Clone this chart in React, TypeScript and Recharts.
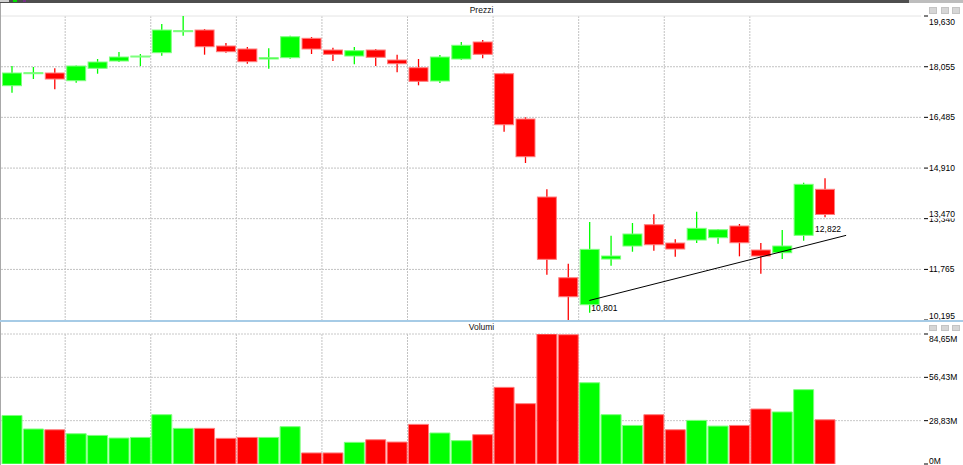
import React from "react";
import {
  ComposedChart,
  BarChart,
  Bar,
  XAxis,
  YAxis,
  CartesianGrid,
  ReferenceLine,
  ReferenceDot,
  Cell,
} from "recharts";

// ---- data (prices in euro, volumes in millions) ----
const opens = [17.467, 17.85, 17.861, 17.622, 18.007, 18.233, 18.357, 18.491, 19.143, 19.195, 18.699, 18.606, 18.295, 18.336, 18.938, 18.575, 18.388, 18.575, 18.264, 18.025, 17.612, 18.295, 18.823, 17.839, 16.433, 14.012, 11.507, 10.669, 12.087, 12.491, 13.152, 12.584, 12.677, 12.749, 13.112, 12.367, 12.283, 12.823, 14.251];
const closes = [17.861, 17.87, 17.674, 18.078, 18.202, 18.357, 18.388, 19.195, 19.174, 18.677, 18.522, 18.212, 18.336, 18.987, 18.606, 18.441, 18.553, 18.348, 18.149, 17.603, 18.357, 18.721, 18.441, 16.256, 15.263, 12.078, 10.917, 12.388, 12.181, 12.864, 12.531, 12.398, 13.04, 12.997, 12.593, 12.181, 12.491, 14.406, 13.47];
const highs = [18.078, 18.047, 18.007, 18.09, 18.295, 18.513, 18.45, 19.382, 19.63, 19.226, 18.792, 18.668, 18.627, 19.019, 18.978, 18.646, 18.668, 18.606, 18.429, 18.295, 18.419, 18.823, 18.885, 17.87, 16.486, 14.251, 11.942, 13.236, 12.811, 13.205, 13.475, 12.699, 13.556, 13.019, 13.174, 12.584, 12.988, 14.456, 14.592];
const lows = [17.249, 17.674, 17.355, 17.56, 17.839, 18.202, 18.078, 18.398, 19.019, 18.429, 18.491, 18.149, 17.994, 18.305, 18.451, 18.233, 18.131, 18.078, 17.882, 17.479, 17.55, 18.264, 18.317, 16.039, 15.067, 11.6, 10.195, 10.421, 11.88, 12.314, 12.345, 12.159, 12.584, 12.562, 12.171, 11.631, 12.087, 12.655, 13.382];
const volumes = [31.6, 22.8, 22.3, 19.7, 18.6, 16.9, 17.3, 32.1, 23.2, 23.2, 16.7, 17.3, 17.3, 24.3, 7.2, 7.2, 14.1, 15.8, 14.3, 25.8, 20.2, 15.2, 19.1, 49.9, 39.3, 84.6, 84.2, 52.9, 32.1, 25.1, 32.1, 22.3, 28.4, 24.7, 25.1, 35.8, 33.9, 48.4, 28.8];

const SLOT_COUNT = 43;
const priceTicks = [10.195, 11.765, 13.34, 14.91, 16.485, 18.055, 19.63];
const priceGridLines = [11.765, 13.34, 14.91, 16.485, 18.055];
const lastPrice = 13.47;
const trendStart = { slot: 27, value: 10.801 };
const trendEnd = { slot: 39, value: 12.822 };
const volTicks = [0, 28.22, 56.43, 84.65];
const volTickLabels = ["0M", "28,83M", "56,43M", "84,65M"];
const gridSlots = [3, 7, 11, 15, 19, 23, 27, 31, 35];

const data = Array.from({ length: SLOT_COUNT }, (_, i) =>
  i < opens.length
    ? {
        slot: i,
        open: opens[i],
        high: highs[i],
        low: lows[i],
        close: closes[i],
        range: [lows[i], highs[i]],
        vol: volumes[i],
        up: closes[i] >= opens[i],
      }
    : { slot: i, range: null, vol: null, up: true }
);

const GREEN = "#00ff00";
const RED = "#ff0000";
const GREEN_EDGE = "#7dff7d";
const RED_EDGE = "#ff7d7d";
const FONT = "'Liberation Sans', Arial, sans-serif";
const fmtPrice = (v: number) => v.toFixed(3).replace(".", ",");

// vertical grid at slot boundaries, derived from the plot offset the library computes
const slotBoundaryGrid = ({ offset }: any) =>
  gridSlots.map((k) => offset.left + (offset.width * k) / SLOT_COUNT);

const Candle = (props: any) => {
  const { x, y, width, height, payload } = props;
  if (!payload || payload.high == null) return null;
  const top = Math.min(y, y + height);
  const h = Math.abs(height);
  const { open, close, high, low } = payload;
  const span = high - low;
  const px = (v: number) => (span > 0 ? top + ((high - v) / span) * h : top);
  const up = close >= open;
  const color = up ? GREEN : RED;
  const edge = up ? GREEN_EDGE : RED_EDGE;
  const bodyTop = px(Math.max(open, close));
  const bodyBot = px(Math.min(open, close));
  const bh = Math.max(bodyBot - bodyTop, 1);
  const cx = x + width / 2;
  return (
    <g>
      <line x1={cx} x2={cx} y1={top} y2={top + h} stroke={color} strokeWidth={1.3} />
      <rect x={x + 0.5} y={bodyTop} width={width - 1} height={bh} fill={color} stroke={edge} strokeWidth={1} />
    </g>
  );
};

const PriceTick = (props: any) => {
  const { x, y, payload } = props;
  const v = payload.value;
  if (v === lastPrice) {
    return (
      <g>
        <rect x={x + 7} y={y - 5} width={34} height={9} fill="#ffffff" />
        <text x={x + 8} y={y} dy="0.35em" fontSize={8.5} fontFamily={FONT} fill="#000">
          {fmtPrice(v)}
        </text>
      </g>
    );
  }
  let dy = 0;
  if (v === priceTicks[priceTicks.length - 1]) dy = 6;
  if (v === priceTicks[0]) dy = -4;
  return (
    <g>
      <line x1={x + 3} x2={x + 7} y1={y} y2={y} stroke="#000" strokeWidth={1} />
      <text x={x + 8} y={y + dy} dy="0.35em" fontSize={8.5} fontFamily={FONT} fill="#000">
        {fmtPrice(v)}
      </text>
    </g>
  );
};

const VolTick = (props: any) => {
  const { x, y, payload } = props;
  const idx = volTicks.indexOf(payload.value);
  let dy = 0;
  if (idx === volTicks.length - 1) dy = 5;
  if (idx === 0) dy = -3;
  return (
    <g>
      <line x1={x + 3} x2={x + 7} y1={y} y2={y} stroke="#000" strokeWidth={1} />
      <text x={x + 8} y={y + dy} dy="0.35em" fontSize={8.5} fontFamily={FONT} fill="#000">
        {volTickLabels[idx]}
      </text>
    </g>
  );
};

const TrendLabel = (text: string, dx: number, dy: number, anchor: string) => (p: any) => {
  const vb = p.viewBox || {};
  return (
    <text x={vb.x + dx} y={vb.y + dy} textAnchor={anchor} fontSize={8.5} fontFamily={FONT} fill="#000">
      {text}
    </text>
  );
};

const WinButtons = ({ top, h }: { top: number; h: number }) => (
  <>
    {[929, 941, 952].map((l) => (
      <div
        key={l}
        style={{
          position: "absolute",
          left: l,
          top,
          width: 8,
          height: h,
          background: "#d6d6d6",
          border: "1px solid #c4c4c4",
          boxSizing: "border-box",
        }}
      />
    ))}
  </>
);

export default function App() {
  return (
    <div
      style={{
        position: "absolute",
        left: 0,
        top: 0,
        width: 963,
        height: 465,
        background: "#fff",
        overflow: "hidden",
        fontFamily: FONT,
      }}
    >
      <div style={{ position: "absolute", left: 0, top: 0 }}>
        <ComposedChart width={963} height={321} data={data} margin={{ top: 16, right: 0, bottom: 1, left: 1 }}>
          <XAxis dataKey="slot" type="category" hide />
          <YAxis
            orientation="right"
            width={42}
            domain={[priceTicks[0], priceTicks[priceTicks.length - 1]]}
            ticks={[...priceTicks, lastPrice].sort((a, b) => a - b)}
            interval={0}
            allowDataOverflow
            axisLine={false}
            tickLine={false}
            tickSize={0}
            tickMargin={0}
            tick={<PriceTick />}
          />
          <CartesianGrid
            horizontal={false}
            verticalCoordinatesGenerator={slotBoundaryGrid}
            stroke="#c2c2c2"
            strokeDasharray="2 1"
          />
          <CartesianGrid vertical={false} horizontalValues={priceGridLines} stroke="#c2c2c2" strokeDasharray="2 1" />
          <CartesianGrid vertical={false} horizontalValues={[priceTicks[priceTicks.length - 1]]} stroke="#e4e4e4" />
          <Bar dataKey="range" barSize={20} isAnimationActive={false} shape={(p: any) => <Candle {...p} />} />
          <ReferenceLine
            segment={[
              { x: trendStart.slot, y: trendStart.value },
              { x: trendEnd.slot, y: trendEnd.value },
            ]}
            stroke="#000"
            strokeWidth={1}
          />
          <ReferenceDot
            x={trendStart.slot}
            y={trendStart.value}
            r={0.01}
            fill="none"
            stroke="none"
            label={TrendLabel(fmtPrice(trendStart.value), 2, 11, "start")}
          />
          <ReferenceDot
            x={trendEnd.slot}
            y={trendEnd.value}
            r={0.01}
            fill="none"
            stroke="none"
            label={TrendLabel(fmtPrice(trendEnd.value), -5, -3, "end")}
          />
        </ComposedChart>
      </div>

      <div style={{ position: "absolute", left: 0, top: 321 }}>
        <BarChart width={963} height={144} data={data} margin={{ top: 13, right: 0, bottom: 1, left: 1 }}>
          <XAxis dataKey="slot" type="category" hide />
          <YAxis
            orientation="right"
            width={42}
            domain={[0, volTicks[volTicks.length - 1]]}
            ticks={volTicks}
            interval={0}
            allowDataOverflow
            axisLine={false}
            tickLine={false}
            tickSize={0}
            tickMargin={0}
            tick={<VolTick />}
          />
          <CartesianGrid
            horizontal={false}
            verticalCoordinatesGenerator={slotBoundaryGrid}
            stroke="#c2c2c2"
            strokeDasharray="2 1"
          />
          <CartesianGrid vertical={false} horizontalValues={volTicks.slice(1)} stroke="#c8c8c8" strokeDasharray="2 1" />
          <Bar dataKey="vol" barSize={20} isAnimationActive={false}>
            {data.map((d, i) => (
              <Cell key={i} fill={d.up ? GREEN : RED} stroke={d.up ? GREEN_EDGE : RED_EDGE} strokeWidth={1} />
            ))}
          </Bar>
        </BarChart>
      </div>

      {/* frame decorations */}
      <div style={{ position: "absolute", left: 0, top: 0, width: 963, height: 3, background: "#4e4e4e" }} />
      <div style={{ position: "absolute", left: 909, top: 0, width: 54, height: 3, background: "#bdbdbd" }} />
      <div style={{ position: "absolute", left: 0, top: 0, width: 9, height: 2, background: "#d0d0d0" }} />
      <div style={{ position: "absolute", left: 13, top: 0, width: 4, height: 2, background: "#00e000" }} />
      <div style={{ position: "absolute", left: 23, top: 0, width: 3, height: 2, background: "#7a2a8a" }} />
      <div style={{ position: "absolute", left: 0, top: 3, width: 1, height: 462, background: "#a8a8a8" }} />
      <div
        style={{
          position: "absolute",
          left: 0,
          top: 4,
          width: 963,
          height: 12,
          lineHeight: "12px",
          textAlign: "center",
          fontSize: 8.5,
          color: "#111",
        }}
      >
        Prezzi
      </div>
      <WinButtons top={7} h={7} />
      <div style={{ position: "absolute", left: 0, top: 320, width: 963, height: 2, background: "#a6cbe6" }} />
      <div
        style={{
          position: "absolute",
          left: 0,
          top: 322,
          width: 963,
          height: 11,
          lineHeight: "11px",
          textAlign: "center",
          fontSize: 8.5,
          color: "#111",
        }}
      >
        Volumi
      </div>
      <WinButtons top={325} h={6} />
    </div>
  );
}
